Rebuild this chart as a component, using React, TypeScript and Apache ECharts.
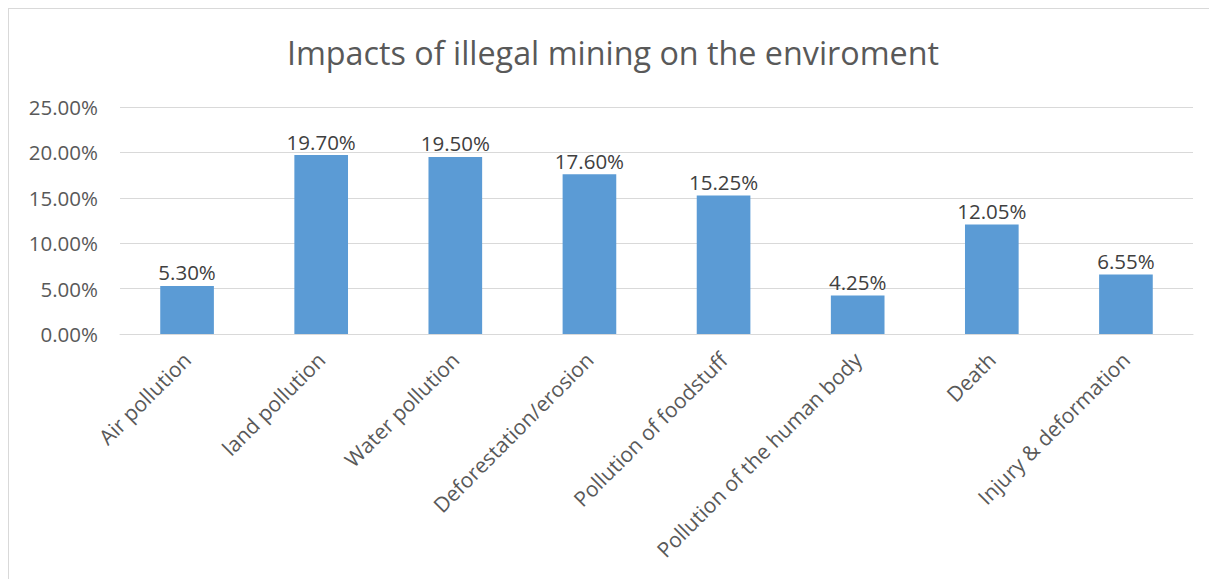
import React, { useEffect, useRef } from "react";
import * as echarts from "echarts";

const categories = [
  "Air pollution",
  "land pollution",
  "Water pollution",
  "Deforestation/erosion",
  "Pollution of foodstuff",
  "Pollution of the human body",
  "Death",
  "Injury & deformation",
];
const values = [5.3, 19.7, 19.5, 17.6, 15.25, 4.25, 12.05, 6.55];
const titleText = "Impacts of illegal mining on the enviroment";

export default function App() {
  const ref = useRef<HTMLDivElement>(null);
  useEffect(() => {
    if (!ref.current) return;
    const chart = echarts.init(ref.current, undefined, { renderer: "svg" });
    const font = "'Open Sans', 'Noto Sans', sans-serif";
    chart.setOption({
      animation: false,
      title: {
        text: titleText,
        left: "center",
        top: 22,
        textStyle: { fontFamily: font, fontSize: 32.3, fontWeight: "normal", color: "#595959" },
      },
      grid: { left: 111, right: 24, top: 98, bottom: 245, containLabel: false },
      xAxis: {
        type: "category",
        data: categories,
        axisLine: { lineStyle: { color: "#d9d9d9", width: 1 } },
        axisTick: { show: false },
        axisLabel: {
          interval: 0,
          rotate: 45,
          margin: 22,
          color: "#595959",
          fontFamily: font,
          fontSize: 21,
        },
      },
      yAxis: {
        type: "value",
        min: 0,
        max: 25,
        interval: 5,
        axisLine: { show: false },
        axisTick: { show: false },
        splitLine: { lineStyle: { color: "#d9d9d9", width: 1 } },
        axisLabel: {
          margin: 22,
          color: "#595959",
          fontFamily: font,
          fontSize: 20.5,
          formatter: (v: number) => v.toFixed(2) + "%",
        },
      },
      series: [
        {
          type: "bar",
          data: values,
          barWidth: "40%",
          itemStyle: { color: "#5b9bd5" },
          label: {
            show: true,
            position: "top",
            distance: 3,
            color: "#404040",
            fontFamily: font,
            fontSize: 20.5,
            formatter: (p: any) => Number(p.value).toFixed(2) + "%",
          },
        },
      ],
    });
    return () => chart.dispose();
  }, []);
  return (
    <div
      ref={ref}
      style={{
        width: 1208,
        height: 570,
        borderLeft: "1px solid #d9d9d9",
        borderTop: "1px solid #d9d9d9",
        background: "#fff",
      }}
    />
  );
}
